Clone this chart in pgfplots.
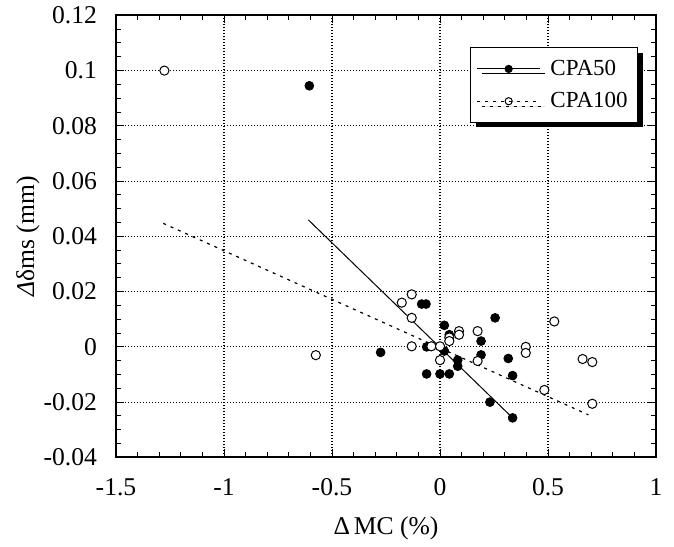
\documentclass[border=0pt]{standalone}
\usepackage{fontspec}
\setmainfont{Liberation Serif}
\usepackage{pgfplots}
\pgfplotsset{compat=1.18}
\usetikzlibrary{shadows}

\pgfplotstableread{
x y
-0.605 0.0945
-0.275 -0.002
-0.085 0.0155
-0.065 0.0155
-0.062 0.0
-0.062 -0.0098
0.0 -0.0098
0.043 -0.0098
0.02 0.0078
0.02 -0.0015
0.043 0.0044
0.082 -0.0048
0.082 -0.007
0.19 0.0021
0.19 -0.0029
0.255 0.0105
0.316 -0.0042
0.336 -0.0104
0.231 -0.020
0.336 -0.0257
}\cpafifty

\pgfplotstableread{
x y
-1.276 0.100
-0.575 -0.003
-0.131 0.019
-0.177 0.016
-0.131 0.0105
-0.131 0.0002
-0.040 0.0002
0.0 0.0002
0.0 -0.0048
0.043 0.0034
0.043 0.0021
0.088 0.0057
0.088 0.0044
0.174 0.0057
0.174 -0.0051
0.397 0.0
0.397 -0.0022
0.529 0.0092
0.660 -0.0044
0.705 -0.0055
0.483 -0.0156
0.705 -0.0206
}\cpahundred

\begin{document}
\begin{tikzpicture}
\begin{axis}[
  scale only axis,
  width=270pt, height=221pt,
  xmin=-1.5, xmax=1, ymin=-0.04, ymax=0.12,
  xtick={-1.5,-1,-0.5,0,0.5,1},
  ytick={-0.04,-0.02,0,0.02,0.04,0.06,0.08,0.1,0.12},
  minor x tick num=4, minor y tick num=3,
  major tick length=4pt, minor tick length=2.5pt,
  tick style={black, line width=0.5pt},
  axis line style={line width=0.9pt},
  scaled x ticks=false, scaled y ticks=false,
  /pgf/number format/assume math mode=true,
  xticklabel style={/pgf/number format/fixed, yshift=-7pt},
  yticklabel style={/pgf/number format/fixed, /pgf/number format/precision=2, xshift=-6pt},
  tick label style={font=\fontsize{12.8}{14}\selectfont},
  grid=major,
  major grid style={black, line width=0.6pt, dash pattern=on 0.6pt off 0.9pt},
  xlabel={Δ\hspace{0.15em}MC (\%)},
  ylabel={{\itshape Δ}δms (mm)},
  label style={font=\fontsize{12.8}{14}\selectfont},
  xlabel style={at={(axis description cs:0.5,-0.16)}, anchor=center},
  ylabel style={at={(axis description cs:-0.163,0.5)}, anchor=center},
  clip=false,
  legend style={at={(0.967,0.928)}, anchor=north east, draw=black, line width=0.6pt, fill=white,
    drop shadow={shadow xshift=2.5pt, shadow yshift=-2.5pt, fill=black, opacity=1},
    font=\fontsize{11.5}{13}\selectfont, inner xsep=3pt, inner ysep=4pt, row sep=3pt,
    /tikz/every odd column/.append style={column sep=3pt}},
  legend cell align=left,
  legend image code/.code={\draw[mark repeat=2,mark phase=2] plot coordinates {(0cm,0cm)(0.55cm,0cm)(1.1cm,0cm)};},
]
\path (rel axis cs:-0.2148,-0.1923) rectangle (rel axis cs:1.0333,1.0339);
\addlegendimage{black, line width=0.5pt, mark=*, mark size=1.8pt, mark options={solid, fill=black}}
\addlegendentry{CPA50}
\addlegendimage{black, line width=0.5pt, dash pattern=on 1.5pt off 2.5pt, mark=o, mark size=1.8pt, mark options={solid, fill=white}}
\addlegendentry{CPA100}
\addplot[forget plot, black, line width=0.5pt] coordinates {(-0.61,0.046) (0.336,-0.0257)};
\addplot[forget plot, black, line width=0.6pt, dash pattern=on 1.5pt off 2.5pt] coordinates {(-1.281,0.0447) (0.687,-0.0246)};
\addplot[forget plot, only marks, mark=*, mark size=2.2pt, mark options={fill=black, draw=black}] table {\cpafifty};
\addplot[forget plot, only marks, mark=*, mark size=2.3pt, mark options={fill=white, draw=black, line width=0.5pt}] table {\cpahundred};
\end{axis}
\end{tikzpicture}
\end{document}
